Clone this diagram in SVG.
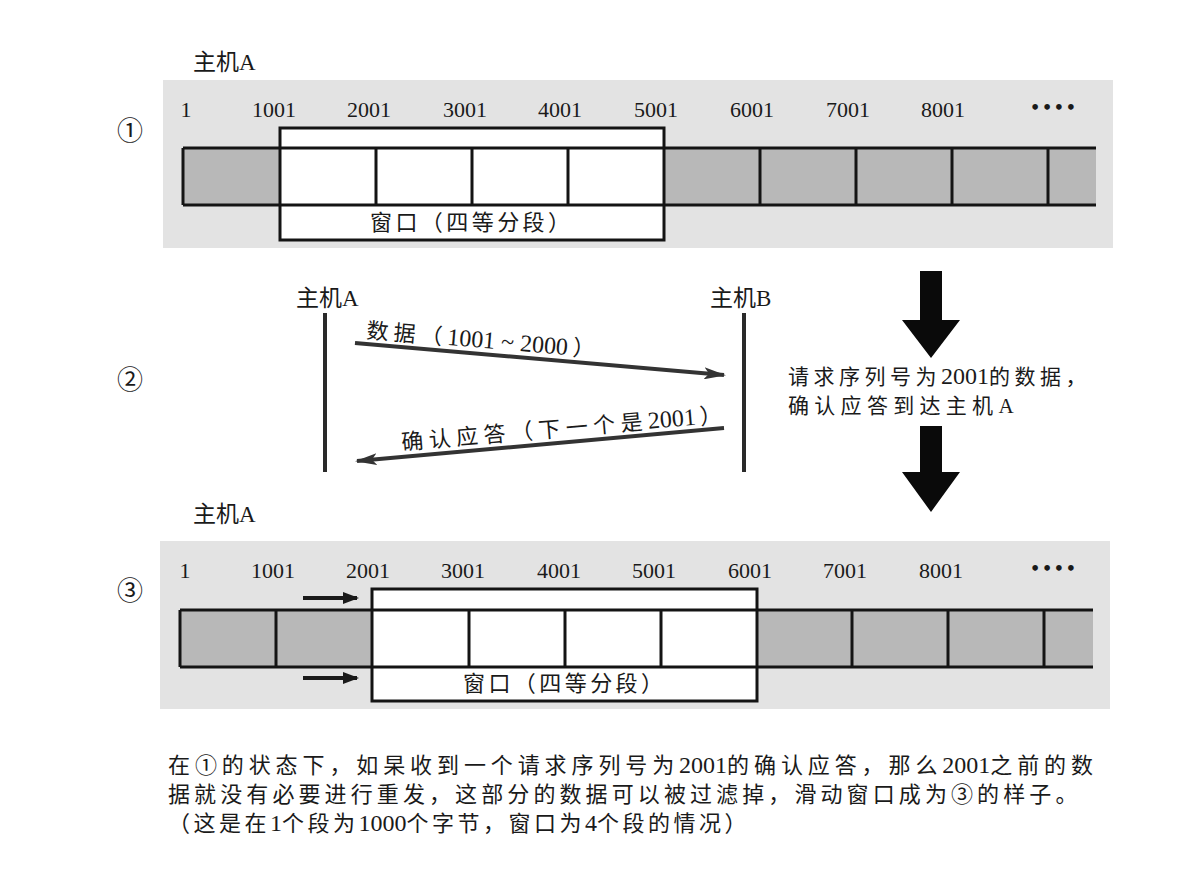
<svg xmlns="http://www.w3.org/2000/svg" width="1179" height="876" viewBox="0 0 1179 876">
<style>
  .t { font-family: 'Liberation Serif', 'Noto Sans CJK SC', serif; fill: #1a1a1a; }
  .num { font-size: 22px; text-anchor: middle; }
  .lbl { font-size: 23px; }
  .circ { font-family: 'Noto Sans CJK SC', 'DejaVu Sans', sans-serif; font-size: 26px; fill: #1a1a1a; text-anchor: middle; }
  .panel { fill: #e3e3e3; }
  .cells { fill: #b8b8b8; }
  .win { fill: #ffffff; stroke: #141414; stroke-width: 3; }
  .ln { stroke: #141414; stroke-width: 3; fill: none; }
  .dots { font-family: 'DejaVu Sans', sans-serif; font-size: 16px; font-weight: bold; fill: #1a1a1a; }
  .seq { stroke: #2a2a2a; stroke-width: 4; }
  .msg { stroke: #333333; stroke-width: 4; fill: none; }
  .d { letter-spacing: 0px; font-size: 24px; }
</style>
<defs>
  <marker id="ah" markerUnits="userSpaceOnUse" viewBox="0 0 22 12" markerWidth="22" markerHeight="12" refX="20" refY="6" orient="auto">
    <path d="M0,0 L22,6 L0,12 L5,6 z" fill="#333333"/>
  </marker>
  <marker id="ahs" markerUnits="userSpaceOnUse" viewBox="0 0 16 12" markerWidth="16" markerHeight="12" refX="14" refY="6" orient="auto">
    <path d="M0,0 L16,6 L0,12 z" fill="#1a1a1a"/>
  </marker>
</defs>
<rect width="1179" height="876" fill="#ffffff"/>

<g id="panel1">
  <text class="t lbl" x="193" y="70">主机A</text>
  <text class="circ" x="130" y="140">①</text>
  <rect class="panel" x="163" y="80" width="950" height="168"/>
  <g class="t num">
    <text x="186" y="117">1</text>
    <text x="274" y="117">1001</text>
    <text x="369" y="117">2001</text>
    <text x="465" y="117">3001</text>
    <text x="560" y="117">4001</text>
    <text x="656" y="117">5001</text>
    <text x="752" y="117">6001</text>
    <text x="848" y="117">7001</text>
    <text x="943" y="117">8001</text>
  </g>
  <text class="dots" x="1030" y="113" textLength="46" lengthAdjust="spacing">••••</text>
  <rect class="cells" x="183" y="148" width="913" height="57"/>
  <rect class="win" x="280" y="128" width="384" height="112"/>
  <path class="ln" d="M183,148 H1096 M183,205 H1096 M183,148 V205 M376,148 V205 M472,148 V205 M568,148 V205 M760,148 V205 M856,148 V205 M952,148 V205 M1048,148 V205"/>
  <text class="t" x="470" y="230" font-size="22" text-anchor="middle" textLength="200" lengthAdjust="spacing">窗口（四等分段）</text>
</g>

<g id="panel2">
  <text class="circ" x="130" y="389">②</text>
  <g id="hostA">
    <text class="t lbl" x="296" y="306">主机A</text>
    <line class="seq" x1="325" y1="313" x2="325" y2="472"/>
  </g>
  <g id="hostB">
    <text class="t lbl" x="710" y="306">主机B</text>
    <line class="seq" x1="744" y1="313" x2="744" y2="472"/>
  </g>
  <text class="t" font-size="22" transform="translate(366,338) rotate(4.8)"><tspan letter-spacing="5">数据（</tspan><tspan class="d">1001 ~ 2000</tspan><tspan dx="5">）</tspan></text>
  <text class="t" font-size="22" transform="translate(402,450) rotate(-4.9)"><tspan letter-spacing="5.5">确认应答（下一个是</tspan><tspan class="d">2001</tspan><tspan dx="4">）</tspan></text>
  <g id="bigArrows">
    <polygon points="920,271 942,271 942,320 960,320 931,358 902,320 920,320" fill="#0a0a0a"/>
    <polygon points="920,426 942,426 942,472 960,472 931,512 902,472 920,472" fill="#0a0a0a"/>
  </g>
  <text class="t" x="788" y="384" font-size="21"><tspan letter-spacing="4.5">请求序列号为</tspan><tspan class="d" font-size="22">2001</tspan><tspan letter-spacing="4.5">的数据，</tspan></text>
  <text class="t" x="788" y="413" font-size="21" letter-spacing="5.3">确认应答到达主机A</text>
</g>

<g id="connectors">
  <line class="msg" x1="355" y1="343" x2="724" y2="375" marker-end="url(#ah)"/>
  <line class="msg" x1="724" y1="428" x2="357" y2="461" marker-end="url(#ah)"/>
</g>

<g id="panel3">
  <text class="t lbl" x="193" y="522">主机A</text>
  <text class="circ" x="130" y="600">③</text>
  <rect class="panel" x="160" y="541" width="950" height="168"/>
  <g class="t num">
    <text x="185" y="578">1</text>
    <text x="273" y="578">1001</text>
    <text x="368" y="578">2001</text>
    <text x="463" y="578">3001</text>
    <text x="559" y="578">4001</text>
    <text x="654" y="578">5001</text>
    <text x="750" y="578">6001</text>
    <text x="845" y="578">7001</text>
    <text x="941" y="578">8001</text>
  </g>
  <text class="dots" x="1030" y="574" textLength="46" lengthAdjust="spacing">••••</text>
  <rect class="cells" x="180" y="610" width="913" height="57"/>
  <rect class="win" x="372" y="589" width="385" height="112"/>
  <path class="ln" d="M180,610 H1093 M180,667 H1093 M180,610 V667 M276,610 V667 M469,610 V667 M565,610 V667 M661,610 V667 M852,610 V667 M948,610 V667 M1044,610 V667"/>
  <text class="t" x="563" y="691" font-size="22" text-anchor="middle" textLength="200" lengthAdjust="spacing">窗口（四等分段）</text>
  <line x1="303" y1="598" x2="357" y2="598" stroke="#1a1a1a" stroke-width="4" marker-end="url(#ahs)"/>
  <line x1="303" y1="678" x2="357" y2="678" stroke="#1a1a1a" stroke-width="4" marker-end="url(#ahs)"/>
</g>

<g id="caption" class="t" font-size="22">
  <text x="168" y="773"><tspan letter-spacing="4.9">在①的状态下，如杲收到一个请求序列号为</tspan><tspan class="d">2001</tspan><tspan letter-spacing="4.9">的确认应答，那么</tspan><tspan class="d">2001</tspan><tspan letter-spacing="4.9">之前的数</tspan></text>
  <text x="168" y="802" letter-spacing="4.1">据就没有必要进行重发，这部分的数据可以被过滤掉，滑动窗口成为③的样子。</text>
  <text x="168" y="831"><tspan letter-spacing="3.5">（这是在</tspan><tspan class="d">1</tspan><tspan letter-spacing="3.5">个段为</tspan><tspan class="d">1000</tspan><tspan letter-spacing="3.5">个字节，窗口为</tspan><tspan class="d">4</tspan><tspan letter-spacing="3.5">个段的情况）</tspan></text>
</g>
</svg>
